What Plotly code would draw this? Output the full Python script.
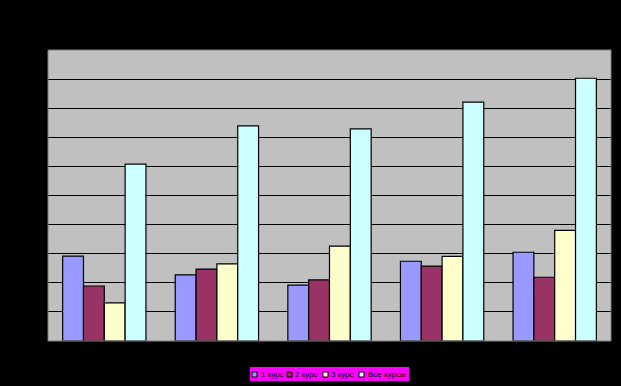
import plotly.graph_objects as go

categories = ["1", "2", "3", "4", "5"]
series_names = ["1 курс", "2 курс", "3 курс", "Все курсы"]
course1 = [2.92, 2.27, 1.92, 2.74, 3.05]
course2 = [1.89, 2.47, 2.10, 2.57, 2.19]
course3 = [1.31, 2.65, 3.26, 2.91, 3.80]
all_courses = [6.08, 7.39, 7.29, 8.21, 9.03]

colors = ["#9999FF", "#993366", "#FFFFCC", "#CCFFFF"]
series = [course1, course2, course3, all_courses]

W, H = 621, 386
ML, MR, MT, MB = 48, 10, 50, 45
PW, PH = W - ML - MR, H - MT - MB


def px_x(px):
    return (px - ML) / PW


def px_y(py):
    return (H - MB - py) / PH


fig = go.Figure()
for name, vals, col in zip(series_names, series, colors):
    fig.add_trace(go.Bar(
        x=categories, y=vals, name=name,
        marker=dict(color=col, line=dict(color="black", width=1.2)),
    ))

fig.update_layout(
    width=W, height=H,
    paper_bgcolor="black", plot_bgcolor="#C0C0C0",
    margin=dict(l=ML, r=MR, t=MT, b=MB),
    barmode="group", bargap=0.26, bargroupgap=0,
    showlegend=False,
    font=dict(family="Liberation Sans, Arial", size=10, color="black"),
    xaxis=dict(showgrid=False, zeroline=False, showline=False, tickfont=dict(color="black")),
    yaxis=dict(range=[0, 10], dtick=1, showgrid=True, gridcolor="black", gridwidth=1,
               zeroline=False, showline=False, tickfont=dict(color="black")),
)
fig.add_shape(type="rect", xref="paper", yref="paper", x0=0, x1=1, y0=0, y1=1,
              line=dict(color="#808080", width=1), layer="above")

# legend box (custom, compact like the original)
fig.add_shape(type="rect", xref="paper", yref="paper",
              x0=px_x(250), x1=px_x(409), y0=px_y(381), y1=px_y(367),
              fillcolor="#FF00FF", line=dict(color="#FF00FF", width=0))
sw_left = [252, 287, 323, 359]
txt_left = [259, 293, 329, 366]
for name, col, sx, tx in zip(series_names, colors, sw_left, txt_left):
    fig.add_shape(type="rect", xref="paper", yref="paper",
                  x0=px_x(sx), x1=px_x(sx + 5), y0=px_y(377), y1=px_y(372),
                  fillcolor=col, line=dict(color="black", width=1))
    fig.add_annotation(xref="paper", yref="paper", x=px_x(tx), y=px_y(374.5),
                       xanchor="left", yanchor="middle", text=name, showarrow=False,
                       font=dict(family="Liberation Sans, Arial", size=8, color="black"))

fig.write_html("out.html", config={"displayModeBar": False},
               post_script="document.body.style.margin='0';")
